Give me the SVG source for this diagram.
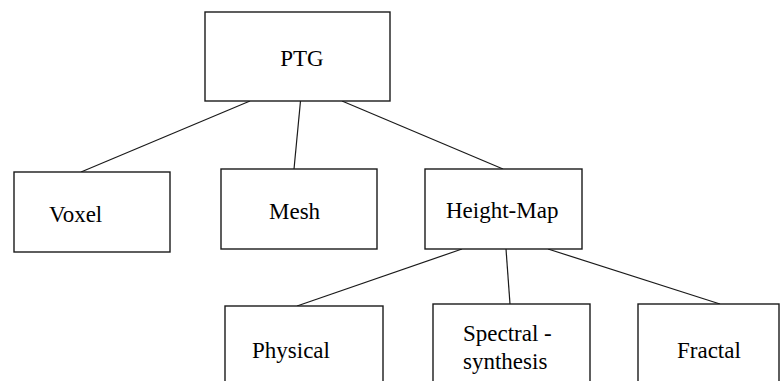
<svg xmlns="http://www.w3.org/2000/svg" width="782" height="381" viewBox="0 0 782 381">
  <style>
    .box { fill: #ffffff; stroke: #1a1a1a; stroke-width: 1.4; }
    .edge { stroke: #1a1a1a; stroke-width: 1.2; fill: none; }
    .label { font-family: "Liberation Serif", "Times New Roman", serif; font-size: 23px; fill: #000000; }
  </style>
  <rect width="782" height="381" fill="#ffffff"/>
  <g id="connectors">
    <line class="edge" x1="250" y1="101" x2="81" y2="172"/>
    <line class="edge" x1="300.5" y1="101" x2="294" y2="169"/>
    <line class="edge" x1="342" y1="101" x2="503" y2="169"/>
    <line class="edge" x1="462" y1="249" x2="297" y2="306"/>
    <line class="edge" x1="506" y1="249" x2="510" y2="304"/>
    <line class="edge" x1="548" y1="249" x2="720" y2="304"/>
  </g>
  <g id="ptg">
    <rect class="box" x="205" y="12" width="185" height="89"/>
    <text class="label" x="302" y="66" text-anchor="middle">PTG</text>
  </g>
  <g id="voxel">
    <rect class="box" x="14" y="172" width="156" height="80"/>
    <text class="label" x="49" y="222">Voxel</text>
  </g>
  <g id="mesh">
    <rect class="box" x="221" y="169" width="156" height="80"/>
    <text class="label" x="269" y="219">Mesh</text>
  </g>
  <g id="height-map">
    <rect class="box" x="425" y="169" width="157" height="80"/>
    <text class="label" x="446" y="218">Height-Map</text>
  </g>
  <g id="physical">
    <rect class="box" x="225" y="306" width="158" height="90"/>
    <text class="label" x="252" y="358">Physical</text>
  </g>
  <g id="spectral-synthesis">
    <rect class="box" x="433" y="304" width="157" height="92"/>
    <text class="label" x="463" y="341">Spectral -</text>
    <text class="label" x="463" y="369">synthesis</text>
  </g>
  <g id="fractal">
    <rect class="box" x="638" y="304" width="141" height="92"/>
    <text class="label" x="677" y="358">Fractal</text>
  </g>
</svg>
